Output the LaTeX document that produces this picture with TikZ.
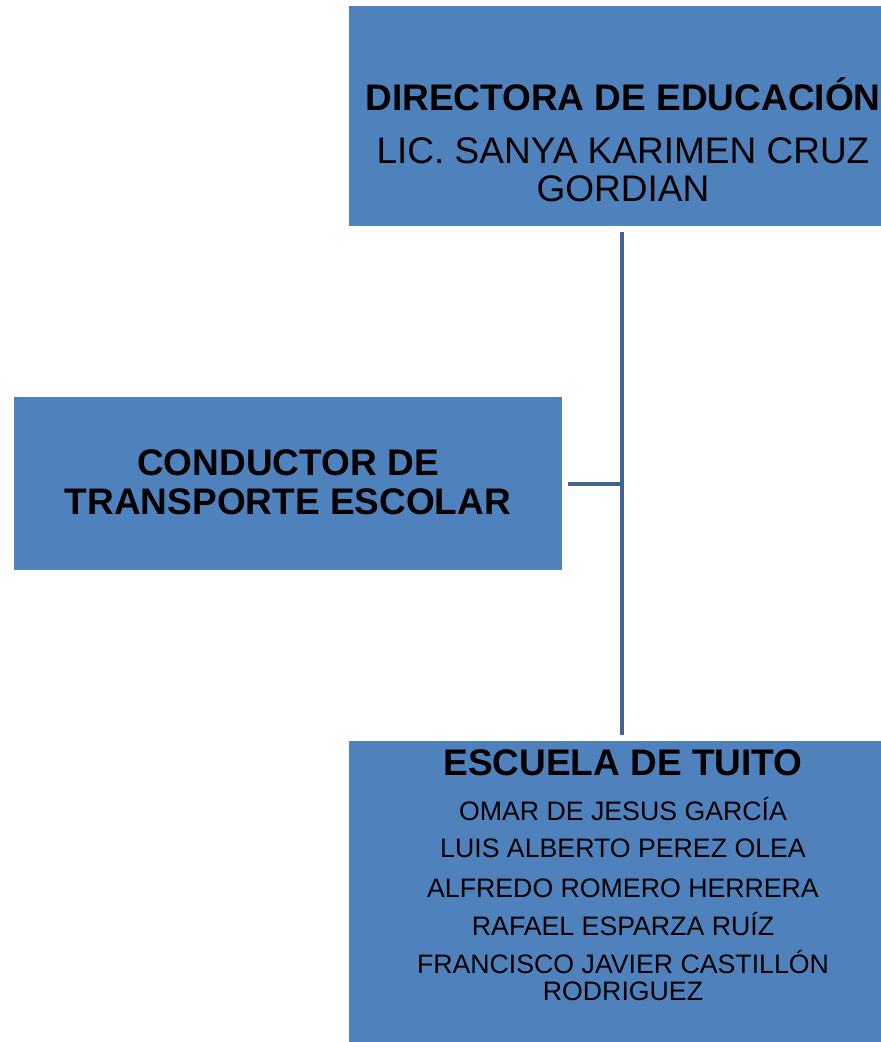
\documentclass[tikz,border=0pt]{standalone}
\usepackage{fontspec}
\setmainfont{Liberation Sans}
\definecolor{boxblue}{HTML}{4F81BD}
\definecolor{lineblue}{HTML}{3F6597}
\begin{document}
\begin{tikzpicture}[x=1pt,y=-1pt,
  box/.style={fill=boxblue,draw=none,anchor=north west,inner sep=0pt},
  big/.style={anchor=base,inner sep=0pt,font=\fontsize{37}{42}\selectfont\bfseries},
  reg/.style={anchor=base,inner sep=0pt,font=\fontsize{37}{42}\selectfont},
  small/.style={anchor=base,inner sep=0pt,font=\fontsize{26.7}{30}\selectfont},
  conn/.style={draw=lineblue,line width=4pt}]
\useasboundingbox (0,0) rectangle (881,1042);
% boxes
\node[box,minimum width=532pt,minimum height=220pt] (top) at (349,6) {};
\node[box,minimum width=548pt,minimum height=173pt] (left) at (14,397) {};
\node[box,minimum width=532pt,minimum height=301pt] (bot) at (349,741) {};
% top text
\node[big] (t1) at (623,110) {DIRECTORA DE EDUCACIÓN};
\node[reg] (t2) at (623,163) {LIC. SANYA KARIMEN CRUZ};
\node[reg] (t3) at (623,201) {GORDIAN};
% left text
\node[big] (l1) at (288,475) {CONDUCTOR DE};
\node[big] (l2) at (288,514) {TRANSPORTE ESCOLAR};
% bottom text
\node[big] (b0) at (623,775) {ESCUELA DE TUITO};
\node[small] (b1) at (623,820) {OMAR DE JESUS GARCÍA};
\node[small] (b2) at (623,857) {LUIS ALBERTO PEREZ OLEA};
\node[small] (b3) at (623,897) {ALFREDO ROMERO HERRERA};
\node[small] (b4) at (623,935) {RAFAEL ESPARZA RUÍZ};
\node[small] (b5) at (623,973) {FRANCISCO JAVIER CASTILLÓN};
\node[small] (b6) at (623,1000) {RODRIGUEZ};
% connectors
\coordinate (vtop) at (622,232);
\coordinate (vbot) at (622,735);
\coordinate (junc) at (622,484);
\coordinate (hleft) at (568,484);
\draw[conn] (vtop) -- (vbot);
\draw[conn] (hleft) -- (junc);
\end{tikzpicture}
\end{document}
